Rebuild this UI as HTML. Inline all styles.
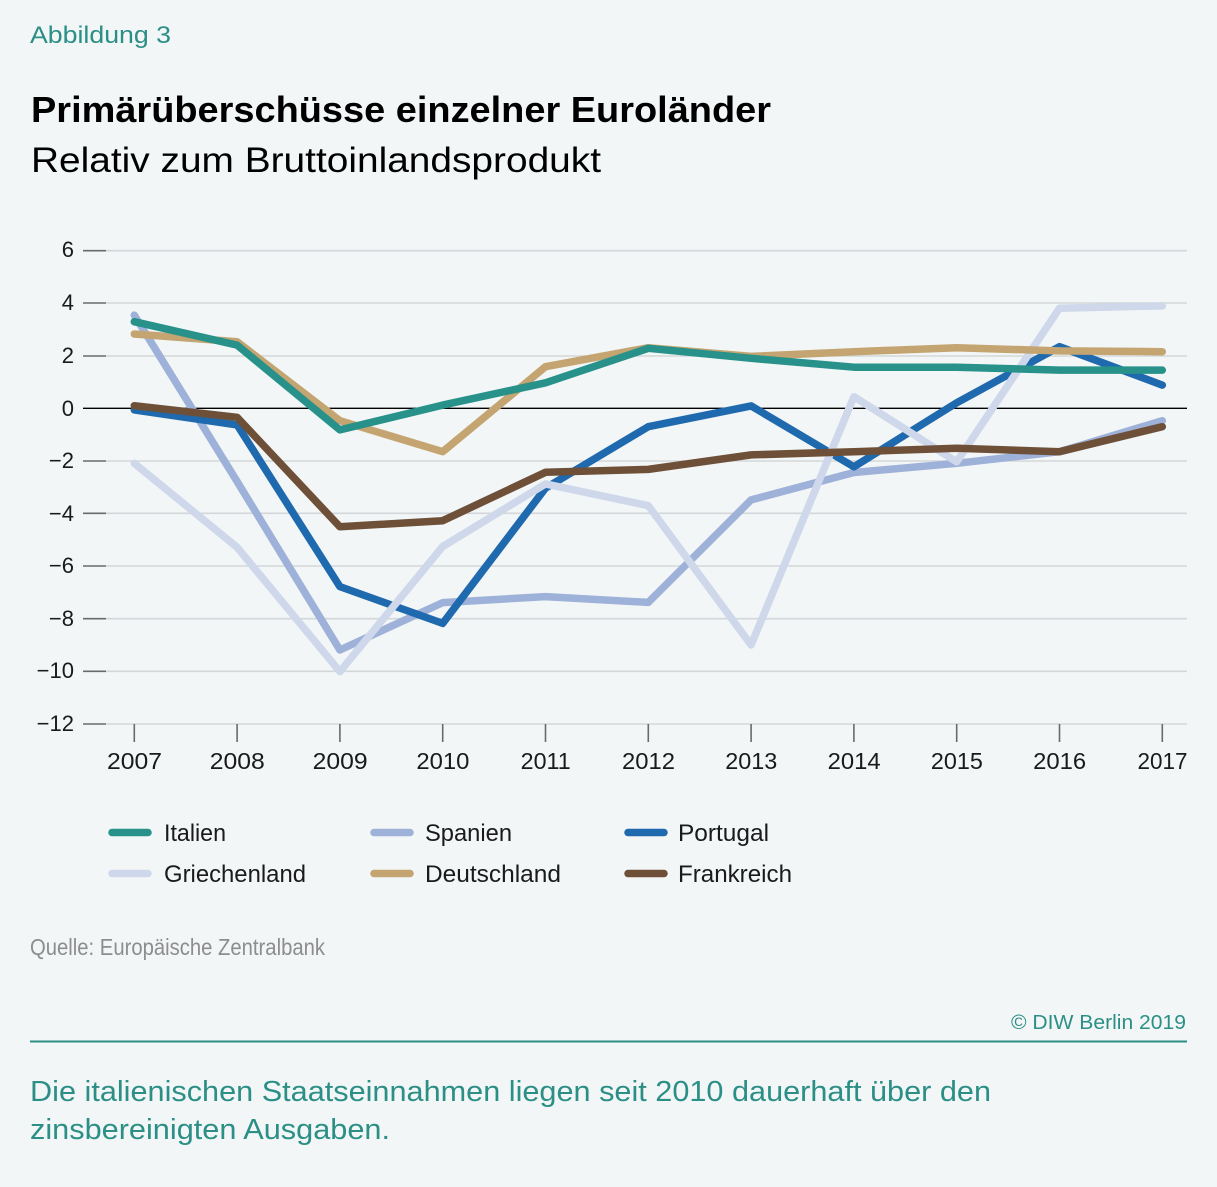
<!DOCTYPE html>
<html>
<head>
<meta charset="utf-8">
<style>
html,body{margin:0;padding:0;background:#f2f6f7;}
svg{display:block;}
text{font-family:"Liberation Sans",sans-serif;}
</style>
</head>
<body>
<svg width="1217" height="1187" viewBox="0 0 1217 1187" xmlns="http://www.w3.org/2000/svg">
<rect x="0" y="0" width="1217" height="1187" fill="#f2f6f7"/>

<!-- Header -->
<text x="30" y="43" font-size="24" fill="#2b8f86" textLength="141" lengthAdjust="spacingAndGlyphs">Abbildung 3</text>
<text x="31" y="122" font-size="36" font-weight="bold" fill="#000" textLength="740" lengthAdjust="spacingAndGlyphs">Primärüberschüsse einzelner Euroländer</text>
<text x="31" y="172" font-size="35" fill="#000" textLength="570" lengthAdjust="spacingAndGlyphs">Relativ zum Bruttoinlandsprodukt</text>

<!-- Gridlines -->
<g stroke="#d3d7d9" stroke-width="1.6">
<line x1="106" y1="250.7" x2="1187" y2="250.7"/>
<line x1="106" y1="303" x2="1187" y2="303"/>
<line x1="106" y1="356" x2="1187" y2="356"/>
<line x1="106" y1="461" x2="1187" y2="461"/>
<line x1="106" y1="513.3" x2="1187" y2="513.3"/>
<line x1="106" y1="566" x2="1187" y2="566"/>
<line x1="106" y1="618.7" x2="1187" y2="618.7"/>
<line x1="106" y1="671.3" x2="1187" y2="671.3"/>
<line x1="106" y1="724" x2="1187" y2="724"/>
</g>
<!-- y ticks -->
<g stroke="#6a6a6a" stroke-width="1.6">
<line x1="83" y1="250.7" x2="106" y2="250.7"/>
<line x1="83" y1="303" x2="106" y2="303"/>
<line x1="83" y1="356" x2="106" y2="356"/>
<line x1="83" y1="461" x2="106" y2="461"/>
<line x1="83" y1="513.3" x2="106" y2="513.3"/>
<line x1="83" y1="566" x2="106" y2="566"/>
<line x1="83" y1="618.7" x2="106" y2="618.7"/>
<line x1="83" y1="671.3" x2="106" y2="671.3"/>
<line x1="83" y1="724" x2="106" y2="724"/>
</g>
<line x1="83" y1="408.3" x2="1187" y2="408.3" stroke="#000" stroke-width="1.3"/>
<!-- x ticks -->
<g stroke="#6a6a6a" stroke-width="1.6">
<line x1="134.3" y1="724" x2="134.3" y2="742"/>
<line x1="237.1" y1="724" x2="237.1" y2="742"/>
<line x1="339.9" y1="724" x2="339.9" y2="742"/>
<line x1="442.7" y1="724" x2="442.7" y2="742"/>
<line x1="545.5" y1="724" x2="545.5" y2="742"/>
<line x1="648.3" y1="724" x2="648.3" y2="742"/>
<line x1="751.1" y1="724" x2="751.1" y2="742"/>
<line x1="853.9" y1="724" x2="853.9" y2="742"/>
<line x1="956.7" y1="724" x2="956.7" y2="742"/>
<line x1="1059.5" y1="724" x2="1059.5" y2="742"/>
<line x1="1162.3" y1="724" x2="1162.3" y2="742"/>
</g>

<!-- y labels -->
<g font-size="22" fill="#1a1a1a" text-anchor="end">
<text x="74" y="257">6</text>
<text x="74" y="310">4</text>
<text x="74" y="363">2</text>
<text x="74" y="416">0</text>
<text x="74" y="468">−2</text>
<text x="74" y="521">−4</text>
<text x="74" y="573">−6</text>
<text x="74" y="626">−8</text>
<text x="74" y="678">−10</text>
<text x="74" y="731">−12</text>
</g>
<!-- x labels -->
<g font-size="23" fill="#1a1a1a" text-anchor="middle">
<text x="134.5" y="769" textLength="55" lengthAdjust="spacingAndGlyphs">2007</text>
<text x="237.3" y="769" textLength="55" lengthAdjust="spacingAndGlyphs">2008</text>
<text x="340.1" y="769" textLength="55" lengthAdjust="spacingAndGlyphs">2009</text>
<text x="442.9" y="769" textLength="53" lengthAdjust="spacingAndGlyphs">2010</text>
<text x="545.7" y="769" textLength="50" lengthAdjust="spacingAndGlyphs">2011</text>
<text x="648.5" y="769" textLength="53" lengthAdjust="spacingAndGlyphs">2012</text>
<text x="751.3" y="769" textLength="52" lengthAdjust="spacingAndGlyphs">2013</text>
<text x="854.1" y="769" textLength="53" lengthAdjust="spacingAndGlyphs">2014</text>
<text x="956.9" y="769" textLength="52" lengthAdjust="spacingAndGlyphs">2015</text>
<text x="1059.7" y="769" textLength="53" lengthAdjust="spacingAndGlyphs">2016</text>
<text x="1162.5" y="769" textLength="50" lengthAdjust="spacingAndGlyphs">2017</text>
</g>

<!-- Series -->
<g fill="none" stroke-width="7.5" stroke-linejoin="round" stroke-linecap="round">
<!-- Spanien -->
<polyline stroke="#9eb1d9" points="134.3,315.1 237.1,481.5 339.9,650.0 442.7,602.6 545.5,596.6 648.3,602.4 751.1,499.9 853.9,472.5 956.7,463.3 1059.5,451.7 1162.3,420.7"/>
<!-- Portugal -->
<polyline stroke="#1f69ae" points="134.3,409.9 237.1,424.9 339.9,586.6 442.7,623.4 545.5,488.1 648.3,426.7 751.1,405.9 853.9,466.8 956.7,402.8 1059.5,346.7 1162.3,385.1"/>
<!-- Griechenland -->
<polyline stroke="#cfd8eb" points="134.3,463.3 237.1,547.3 339.9,671.6 442.7,546.5 545.5,483.9 648.3,505.7 751.1,645.0 853.9,396.7 956.7,461.8 1059.5,308.2 1162.3,305.9"/>
<!-- Frankreich -->
<polyline stroke="#6e5039" points="134.3,405.7 237.1,417.3 339.9,526.8 442.7,520.7 545.5,472.3 648.3,469.4 751.1,454.9 853.9,451.7 956.7,448.3 1059.5,451.7 1162.3,426.7"/>
<!-- Deutschland -->
<polyline stroke="#c4a571" points="134.3,334.0 237.1,341.7 339.9,420.7 442.7,451.7 545.5,366.7 648.3,347.7 751.1,356.4 853.9,351.7 956.7,347.7 1059.5,350.9 1162.3,351.7"/>
<!-- Italien -->
<polyline stroke="#27918a" points="134.3,321.7 237.1,345.1 339.9,429.9 442.7,405.1 545.5,382.8 648.3,348.3 751.1,358.3 853.9,367.2 956.7,367.2 1059.5,370.1 1162.3,370.1"/>
</g>

<!-- Legend -->
<g stroke-width="7.5" stroke-linecap="round">
<line x1="112" y1="832.5" x2="148" y2="832.5" stroke="#27918a"/>
<line x1="374" y1="832.5" x2="410" y2="832.5" stroke="#9eb1d9"/>
<line x1="628" y1="832.5" x2="664" y2="832.5" stroke="#1f69ae"/>
<line x1="112" y1="873.5" x2="148" y2="873.5" stroke="#cfd8eb"/>
<line x1="374" y1="873.5" x2="410" y2="873.5" stroke="#c4a571"/>
<line x1="628" y1="873.5" x2="664" y2="873.5" stroke="#6e5039"/>
</g>
<g font-size="24" fill="#1a1a1a">
<text x="164" y="841" textLength="62" lengthAdjust="spacingAndGlyphs">Italien</text>
<text x="425" y="841" textLength="87" lengthAdjust="spacingAndGlyphs">Spanien</text>
<text x="678" y="841" textLength="91" lengthAdjust="spacingAndGlyphs">Portugal</text>
<text x="164" y="882" textLength="142" lengthAdjust="spacingAndGlyphs">Griechenland</text>
<text x="425" y="882" textLength="136" lengthAdjust="spacingAndGlyphs">Deutschland</text>
<text x="678" y="882" textLength="114" lengthAdjust="spacingAndGlyphs">Frankreich</text>
</g>

<!-- Source -->
<text x="30" y="955" font-size="23" fill="#8d8d8d" textLength="295" lengthAdjust="spacingAndGlyphs">Quelle: Europäische Zentralbank</text>

<!-- Footer -->
<text x="1186" y="1029" font-size="20" fill="#2b8f86" text-anchor="end" textLength="175" lengthAdjust="spacingAndGlyphs">© DIW Berlin 2019</text>
<line x1="30" y1="1041.5" x2="1187" y2="1041.5" stroke="#2b8f86" stroke-width="2"/>
<text x="30" y="1101" font-size="29" fill="#2b8f86" textLength="961" lengthAdjust="spacingAndGlyphs">Die italienischen Staatseinnahmen liegen seit 2010 dauerhaft über den</text>
<text x="30" y="1139" font-size="29" fill="#2b8f86" textLength="360" lengthAdjust="spacingAndGlyphs">zinsbereinigten Ausgaben.</text>
</svg>
</body>
</html>
